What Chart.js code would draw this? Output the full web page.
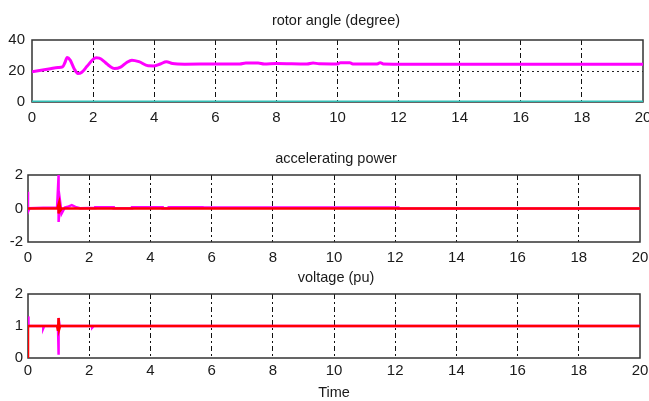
<!DOCTYPE html>
<html>
<head>
<meta charset="utf-8">
<script src="https://cdn.jsdelivr.net/npm/chart.js@4"></script>
<style>
html, body { margin: 0; padding: 0; background: #fff; overflow: hidden; width: 649px; height: 401px; }
canvas { position: absolute; left: 0; }
</style>
</head>
<body>
<canvas id="rotorChart" width="680" height="128" style="top:0px"></canvas>
<canvas id="powerChart" width="680" height="138" style="top:130px"></canvas>
<canvas id="voltageChart" width="680" height="147" style="top:255px"></canvas>
<script>
// Ejes comunes
const timeTicks = [0, 2, 4, 6, 8, 10, 12, 14, 16, 18, 20];
const rotorTicks = [0, 20, 40];
const powerTicks = [-2, 0, 2];
const voltageTicks = [0, 1, 2];

// Ángulo del rotor (magenta) y línea a cero (turquesa)
const rotorTime = [0, 0.3, 0.6, 0.85, 1.0, 1.08, 1.15, 1.25, 1.38, 1.5, 1.62, 1.8, 2.0, 2.1, 2.2, 2.4, 2.55, 2.7, 2.9, 3.1, 3.27, 3.5, 3.8, 4.0, 4.2, 4.4, 4.6, 5.0, 6.0, 6.8, 7.0, 7.4, 7.6, 8.0, 9.0, 9.2, 9.4, 10.0, 10.1, 10.4, 10.5, 11.3, 11.4, 11.5, 12, 14, 16, 18, 20];
const rotorAngle = [19.5, 20.5, 21.5, 22.3, 22.7, 25.5, 28.7, 27, 21.5, 18.4, 19, 23, 27.5, 28.5, 28.3, 25.5, 23, 21.6, 22.5, 25.5, 27, 26, 23.4, 23.3, 24.5, 26, 24.8, 24.4, 24.5, 24.5, 25.2, 25.2, 24.5, 24.8, 24.5, 25.2, 24.6, 24.5, 25.4, 25.4, 24.5, 24.5, 25.4, 24.5, 24.4, 24.3, 24.3, 24.3, 24.3];
const baseTime = [0, 20];
const baseAngle = [0.2, 0.2];

// Potencia de aceleración
const powerTime = [0, 0, 0.05, 0.5, 0.95, 1.0, 1.0, 1.05, 1.1, 1.2, 1.3, 1.43, 1.55, 1.7, 2.0, 2.2, 2.2, 2.8, 2.8, 3.4, 3.4, 4.4, 4.4, 4.6, 4.6, 5.7, 5.7, 12.1, 12.1, 20];
const powerAccel = [1.0, -0.2, 0.02, 0.05, 0.05, 2.0, -0.8, 0.4, -0.3, 0.05, 0.1, 0.2, 0.1, 0.02, 0.03, 0.03, 0.08, 0.08, 0.02, 0.02, 0.08, 0.08, 0.02, 0.02, 0.08, 0.08, 0.06, 0.06, 0, 0];
const powerRefTime = [0, 0.96, 1.0, 1.0, 1.04, 1.06, 1.1, 20];
const powerRef = [0, 0, 0.25, -0.3, 0.15, -0.1, 0, 0];

// Tensión (pu)
const voltageTime = [0, 0, 0.03, 0.5, 0.5, 0.53, 0.98, 1.0, 1.0, 1.03, 2.1, 2.1, 2.15, 20];
const voltageMagenta = [1.3, 1.0, 1.0, 1.0, 0.93, 1.0, 1.0, 0.1, 1.25, 1.0, 1.0, 0.95, 1.0, 1.0];
const voltageRefTime = [0, 0, 0.95, 0.98, 1.0, 1.02, 1.05, 20];
const voltageRed = [0, 1, 1, 0.85, 1.25, 0.9, 1, 1];

const toPoints = (xs, ys) => xs.map((x, i) => ({ x, y: ys[i] }));

// Caja negra alrededor del área del gráfico
const boxPlugin = {
    id: 'box',
    beforeDatasetsDraw(chart) {
        const { ctx, chartArea: a } = chart;
        ctx.save();
        ctx.strokeStyle = '#333';
        ctx.lineWidth = 1.5;
        ctx.strokeRect(a.left, a.top, a.right - a.left, a.bottom - a.top);
        ctx.restore();
    }
};

const fontFamily = '"Liberation Sans", Arial, sans-serif';
const CANVAS_W = 680;
const PAD_RIGHT = 8;

function makePanel(id, cfg) {
    const yMin = cfg.yTicks[0];
    const yMax = cfg.yTicks[cfg.yTicks.length - 1];
    // eje vacío a la derecha para que el título quede centrado como en la figura
    const spacer = CANVAS_W - PAD_RIGHT - cfg.right;
    return new Chart(document.getElementById(id), {
        type: 'line',
        data: { datasets: cfg.datasets },
        plugins: [boxPlugin],
        options: {
            responsive: false,
            animation: false,
            layout: { padding: { left: 0, right: PAD_RIGHT, top: 0, bottom: 0 } },
            elements: { point: { radius: 0 }, line: { tension: 0 } },
            plugins: {
                legend: { display: false },
                tooltip: { enabled: false },
                title: {
                    display: true,
                    text: cfg.title,
                    color: '#1a1a1a',
                    font: { family: fontFamily, size: 14.5, weight: 'normal' },
                    padding: { top: cfg.titleTop, bottom: cfg.titleBottom }
                }
            },
            scales: {
                x: {
                    type: 'linear',
                    min: 0,
                    max: 20,
                    afterBuildTicks: s => { s.ticks = timeTicks.map(v => ({ value: v })); },
                    afterFit: s => { s.height = cfg.xHeight; },
                    border: { display: false, dash: [5, 3, 2, 3] },
                    grid: {
                        drawTicks: false,
                        lineWidth: 1,
                        color: c => (c.tick && (c.tick.value === 0 || c.tick.value === 20)) ? 'rgba(0,0,0,0)' : '#111'
                    },
                    ticks: { padding: cfg.xPad, color: '#1a1a1a', font: { family: fontFamily, size: 15 } },
                    title: {
                        display: !!cfg.xTitle,
                        text: cfg.xTitle || '',
                        color: '#1a1a1a',
                        font: { family: fontFamily, size: 14.5 },
                        padding: 0
                    }
                },
                y: {
                    min: yMin,
                    max: yMax,
                    afterBuildTicks: s => { s.ticks = cfg.yTicks.map(v => ({ value: v })); },
                    afterFit: s => { s.width = cfg.left; },
                    border: { display: false, dash: [2, 3] },
                    grid: {
                        drawTicks: false,
                        lineWidth: 1,
                        color: c => (c.tick && (c.tick.value === yMin || c.tick.value === yMax)) ? 'rgba(0,0,0,0)' : '#222'
                    },
                    ticks: { padding: cfg.yPad, color: '#1a1a1a', font: { family: fontFamily, size: 15 } }
                },
                spacer: {
                    type: 'linear',
                    axis: 'y',
                    position: 'right',
                    afterFit: s => { s.width = spacer; },
                    border: { display: false },
                    grid: { display: false, drawTicks: false },
                    ticks: { display: false }
                }
            }
        }
    });
}

makePanel('rotorChart', {
    title: 'rotor angle (degree)',
    titleTop: 12.3, titleBottom: 10.3,
    left: 32, right: 643,
    xHeight: 26, xPad: 7, yPad: 7,
    yTicks: rotorTicks,
    datasets: [
        { data: toPoints(rotorTime, rotorAngle), borderColor: '#ff00ff', borderWidth: 3, cubicInterpolationMode: 'monotone' },
        { data: toPoints(baseTime, baseAngle), borderColor: '#33bfb6', borderWidth: 2.5 }
    ]
});

makePanel('powerChart', {
    title: 'accelerating power',
    titleTop: 20.3, titleBottom: 7.3,
    left: 28, right: 640,
    xHeight: 26, xPad: 7, yPad: 5,
    yTicks: powerTicks,
    datasets: [
        { data: toPoints(powerRefTime, powerRef), borderColor: '#ff0000', borderWidth: 2.5 },
        { data: toPoints(powerTime, powerAccel), borderColor: '#ff00ff', borderWidth: 2.5 }
    ]
});

makePanel('voltageChart', {
    title: 'voltage (pu)',
    titleTop: 14.3, titleBottom: 7.3,
    left: 28, right: 640,
    xHeight: 44, xPad: 4, yPad: 5,
    xTitle: 'Time',
    yTicks: voltageTicks,
    datasets: [
        { data: toPoints(voltageRefTime, voltageRed), borderColor: '#ff0000', borderWidth: 2.5 },
        { data: toPoints(voltageTime, voltageMagenta), borderColor: '#ff00ff', borderWidth: 2.5 }
    ]
});
</script>
</body>
</html>
